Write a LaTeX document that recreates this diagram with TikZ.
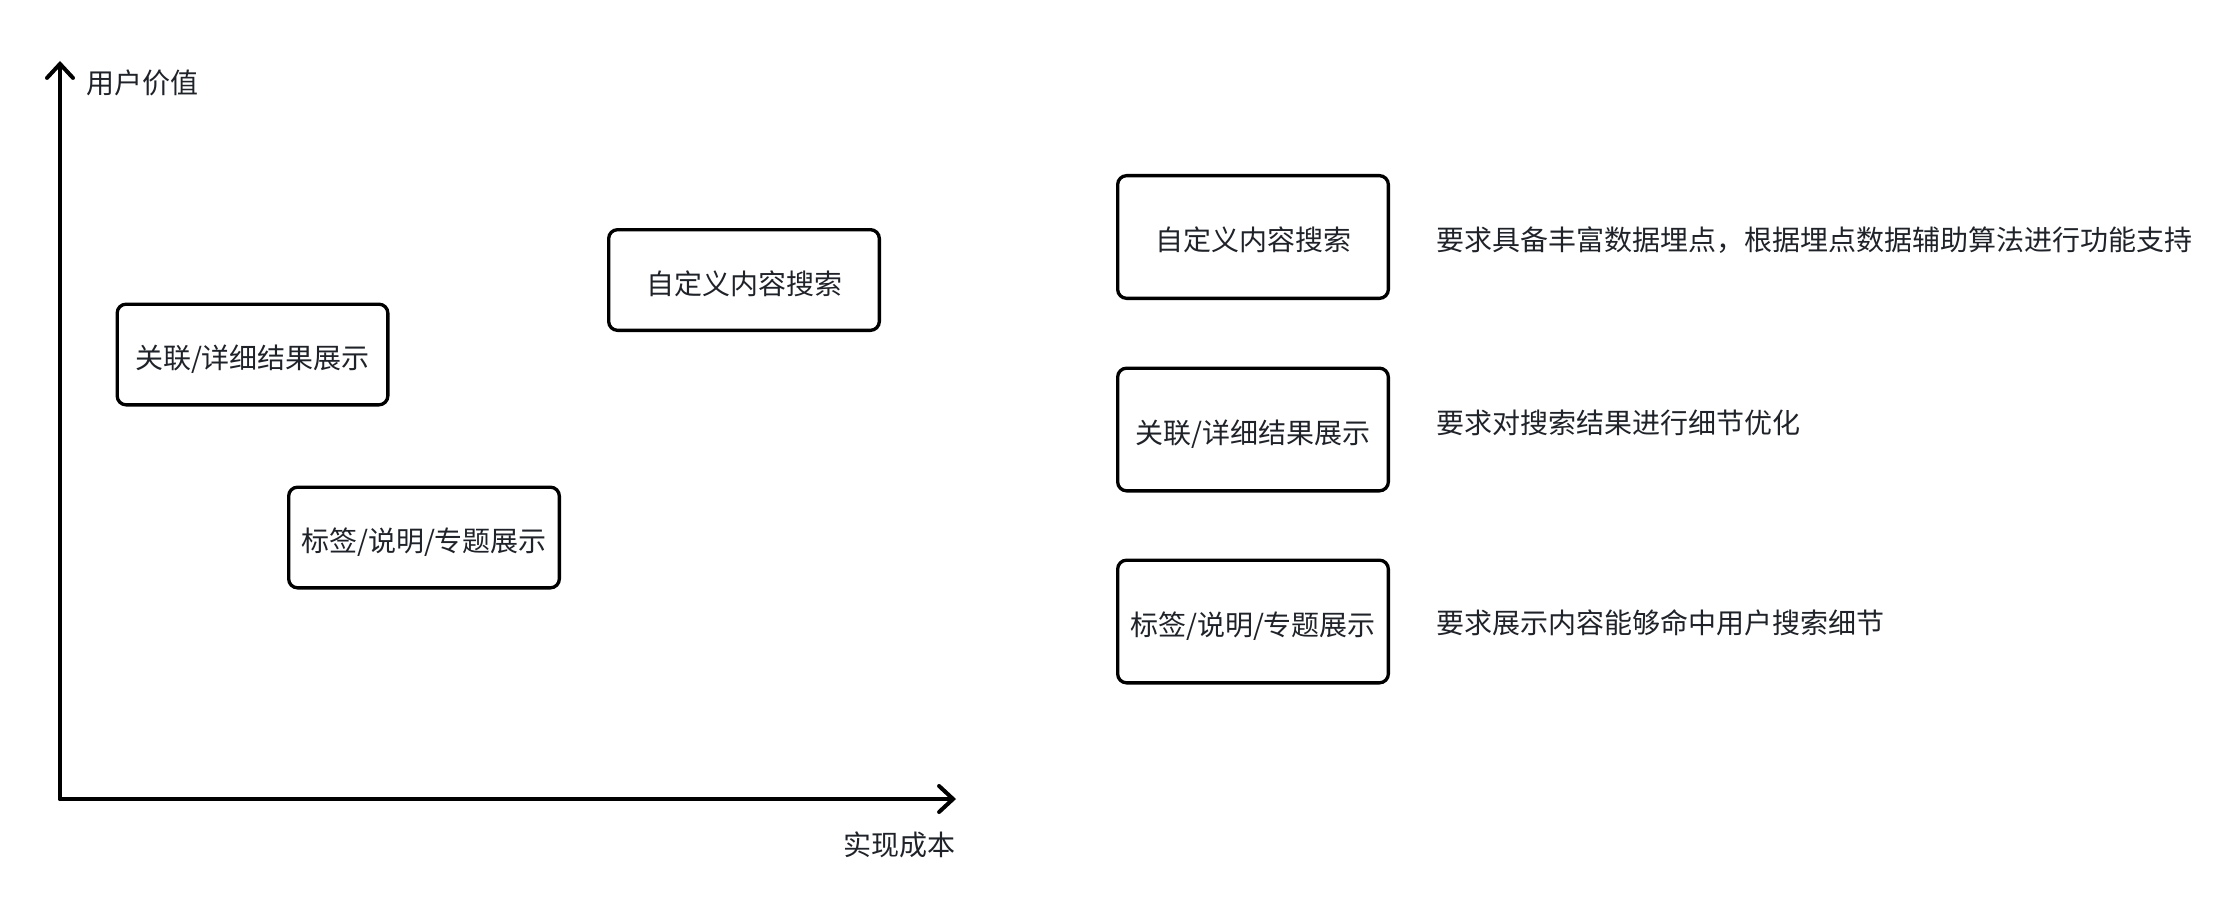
\documentclass[tikz,border=0pt]{standalone}
\usepackage{fontspec}
\setmainfont{Noto Sans CJK SC}
\usetikzlibrary{arrows.meta}
\definecolor{txt}{RGB}{31,35,41}
\begin{document}
\begin{tikzpicture}[x=1pt,y=-1pt,
  box/.style={draw=black,line width=3.3pt,rounded corners=9pt,
    minimum width=270.7pt,minimum height=100.7pt,inner sep=0pt,
    text height=31pt,text depth=3pt,
    font=\fontsize{28}{32}\selectfont,text=txt},
  tallbox/.style={box,minimum height=122.7pt},
  lbl/.style={inner sep=0pt,font=\fontsize{28}{32}\selectfont,text=txt},
  axis/.style={line width=4pt,line cap=round,
    -{Straight Barb[length=14pt,width=26pt,line width=4pt,line cap=round]}}]
\useasboundingbox (0,0) rectangle (2240,912);
% axes
\coordinate (origin) at (60,799);
\coordinate (ytip) at (60,61);
\coordinate (xtip) at (956,799);
\draw[axis] (origin) -- (ytip);
\draw[axis] (origin) -- (xtip);
\node[lbl,anchor=west] (ylabel) at (86,82.5) {用户价值};
\node[lbl,anchor=east] (xlabel) at (956,845) {实现成本};
% chart boxes
\node[box] (c1) at (744,280) {自定义内容搜索};
\node[box] (c2) at (252.5,354.5) {关联/详细结果展示};
\node[box] (c3) at (424,537.5) {标签/说明/专题展示};
% legend boxes
\node[tallbox] (r1) at (1253,237) {自定义内容搜索};
\node[tallbox] (r2) at (1253,429.5) {关联/详细结果展示};
\node[tallbox] (r3) at (1253,621.5) {标签/说明/专题展示};
\node[lbl,anchor=west] (t1) at (1436,240) {要求具备丰富数据埋点，根据埋点数据辅助算法进行功能支持};
\node[lbl,anchor=west] (t2) at (1436,423) {要求对搜索结果进行细节优化};
\node[lbl,anchor=west] (t3) at (1436,623) {要求展示内容能够命中用户搜索细节};
\end{tikzpicture}
\end{document}
